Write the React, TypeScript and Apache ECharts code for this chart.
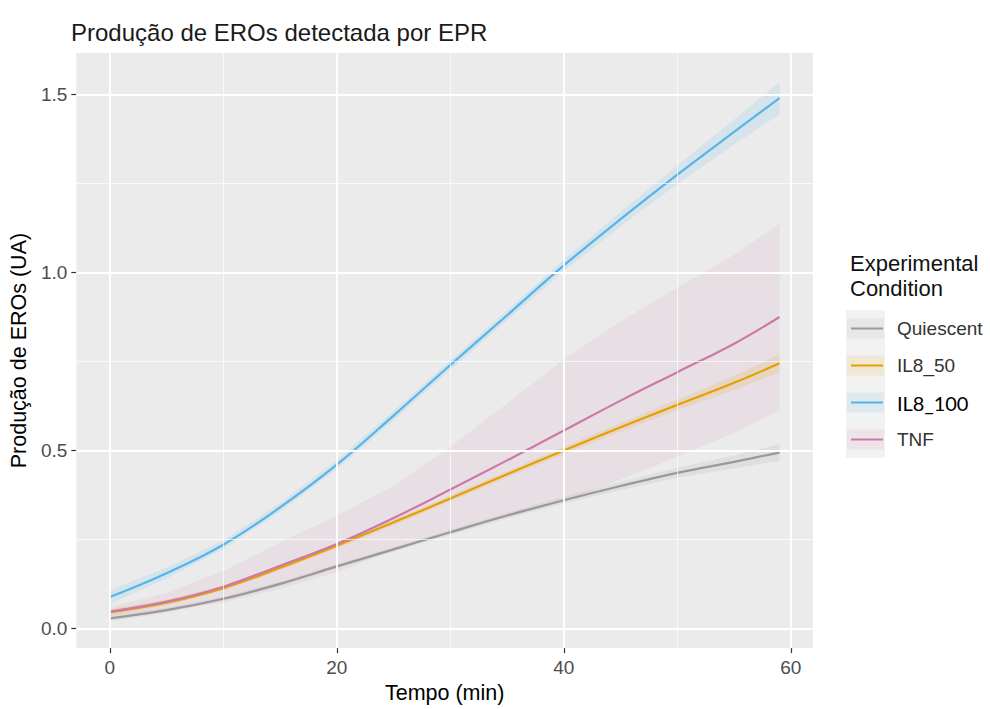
import React, { useEffect, useRef } from "react";
import * as echarts from "echarts";

// ---- Data ----
const TIME = [0, 5, 10, 15, 20, 25, 30, 35, 40, 45, 50, 55, 59];

const CONDITIONS = ["Quiescent", "IL8_50", "IL8_100", "TNF"];

const quiescent = [0.028, 0.051, 0.083, 0.125, 0.174, 0.222, 0.27, 0.317, 0.36, 0.4, 0.437, 0.468, 0.494];
const quiescentSE = [0.008, 0.007, 0.006, 0.006, 0.006, 0.006, 0.007, 0.008, 0.009, 0.011, 0.014, 0.018, 0.024];

const il8_50 = [0.045, 0.072, 0.113, 0.17, 0.232, 0.298, 0.365, 0.433, 0.5, 0.565, 0.628, 0.69, 0.745];
const il8_50SE = [0.01, 0.008, 0.007, 0.007, 0.008, 0.008, 0.008, 0.009, 0.01, 0.012, 0.015, 0.02, 0.025];

const il8_100 = [0.088, 0.155, 0.235, 0.34, 0.46, 0.598, 0.74, 0.88, 1.02, 1.15, 1.275, 1.395, 1.49];
const il8_100SE = [0.02, 0.015, 0.012, 0.012, 0.013, 0.013, 0.013, 0.014, 0.016, 0.02, 0.026, 0.035, 0.045];

const tnf = [0.047, 0.075, 0.117, 0.176, 0.237, 0.31, 0.39, 0.472, 0.556, 0.64, 0.72, 0.8, 0.875];
const tnfSE = [0.012, 0.025, 0.045, 0.065, 0.08, 0.09, 0.12, 0.16, 0.2, 0.222, 0.238, 0.25, 0.262];

const X_TICKS = [0, 20, 40, 60];
const X_MINOR = [10, 30, 50];
const Y_TICKS = [0, 0.5, 1.0, 1.5];
const Y_MINOR = [0.25, 0.75, 1.25];

const COLORS = ["#999999", "#E69F00", "#56B4E9", "#CC79A7"];

const FONT = "'Liberation Sans', Arial, sans-serif";

export default function App() {
  const ref = useRef<HTMLDivElement>(null);

  useEffect(() => {
    if (!ref.current) return;
    const chart = echarts.init(ref.current, undefined, { renderer: "svg" });

    const groups = [
      { name: CONDITIONS[0], v: quiescent, se: quiescentSE, color: COLORS[0] },
      { name: CONDITIONS[1], v: il8_50, se: il8_50SE, color: COLORS[1] },
      { name: CONDITIONS[2], v: il8_100, se: il8_100SE, color: COLORS[2] },
      { name: CONDITIONS[3], v: tnf, se: tnfSE, color: COLORS[3] },
    ];

    const series: any[] = [];

    // gridlines (ggplot style) through markLine on a dummy series
    const major = { color: "#ffffff", width: 1.8, type: "solid" };
    const minor = { color: "#ffffff", width: 0.8, type: "solid", opacity: 0.85 };
    series.push({
      type: "line",
      name: "grid",
      data: [[0, 0]],
      symbol: "none",
      lineStyle: { opacity: 0 },
      silent: true,
      z: 1,
      markLine: {
        silent: true,
        symbol: ["none", "none"],
        label: { show: false },
        emphasis: { disabled: true },
        data: [
          ...X_MINOR.map((x) => ({ xAxis: x, lineStyle: minor })),
          ...Y_MINOR.map((y) => ({ yAxis: y, lineStyle: minor })),
          ...X_TICKS.map((x) => ({ xAxis: x, lineStyle: major })),
          ...Y_TICKS.map((y) => ({ yAxis: y, lineStyle: major })),
        ],
      },
    });

    // confidence ribbons (custom polygons through the axes' scales)
    groups.forEach((g) => {
      const rows = TIME.map((t, i) => [t, g.v[i] - g.se[i], g.v[i] + g.se[i]]);
      series.push({
        type: "custom",
        name: g.name + "_ribbon",
        data: rows,
        encode: { x: 0, y: [1, 2] },
        silent: true,
        z: 2,
        renderItem: (params: any, api: any) => {
          if (params.dataIndex !== 0) return null;
          const upper = rows.map((r) => api.coord([r[0], r[2]]));
          const lower = rows.map((r) => api.coord([r[0], r[1]])).reverse();
          return {
            type: "polygon",
            shape: { points: upper.concat(lower) },
            style: { fill: g.color, opacity: g.name === "TNF" ? 0.1 : 0.15 },
          };
        },
      });
    });

    // fitted lines
    groups.forEach((g) => {
      series.push({
        type: "line",
        name: g.name,
        data: TIME.map((t, i) => [t, g.v[i]]),
        smooth: 0.4,
        symbol: "none",
        lineStyle: { color: g.color, width: 2.2 },
        silent: true,
        z: 3,
      });
    });

    const legendGraphics: any[] = [];
    const keyTop = 310;
    const keyH = 37;
    legendGraphics.push({
      type: "text",
      left: 850,
      top: 252,
      style: { text: "Experimental", font: `22px ${FONT}`, fill: "#111" },
    });
    legendGraphics.push({
      type: "text",
      left: 850,
      top: 277,
      style: { text: "Condition", font: `22px ${FONT}`, fill: "#111" },
    });
    legendGraphics.push({
      type: "rect",
      shape: { x: 846, y: keyTop, width: 39, height: keyH * 4 },
      style: { fill: "#F2F2F2" },
    });
    groups.forEach((g, i) => {
      const cy = keyTop + keyH * i + keyH / 2;
      legendGraphics.push({
        type: "rect",
        shape: { x: 847, y: cy - 10, width: 37, height: 20 },
        style: { fill: g.color, opacity: 0.12 },
      });
      legendGraphics.push({
        type: "line",
        shape: { x1: 851, y1: cy, x2: 883, y2: cy },
        style: { stroke: g.color, lineWidth: 2 },
      });
      const isSpecial = g.name === "IL8_100";
      legendGraphics.push({
        type: "text",
        x: 897,
        y: cy,
        style: {
          text: g.name,
          font: isSpecial ? `20px Lato, 'Open Sans', sans-serif` : `19px ${FONT}`,
          fill: isSpecial ? "#000" : "#333",
          verticalAlign: "middle",
          align: "left",
        },
      });
    });

    chart.setOption({
      animation: false,
      backgroundColor: "#ffffff",
      textStyle: { fontFamily: FONT },
      title: {
        text: "Produção de EROs detectada por EPR",
        left: 66,
        top: 15,
        textStyle: { fontSize: 24, fontWeight: "normal", color: "#1A1A1A", fontFamily: FONT },
      },
      grid: {
        left: 76,
        right: 177,
        top: 53,
        bottom: 54,
        show: true,
        backgroundColor: "#EBEBEB",
        borderWidth: 0,
      },
      xAxis: {
        type: "value",
        min: -2.95,
        max: 61.95,
        name: "Tempo (min)",
        nameLocation: "middle",
        nameGap: 31,
        nameTextStyle: { fontSize: 21.5, color: "#000", fontFamily: FONT },
        axisLine: { show: false, onZero: false },
        axisTick: {
          show: true,
          customValues: X_TICKS,
          length: 5,
          lineStyle: { color: "#333", width: 1.2 },
        },
        axisLabel: {
          customValues: X_TICKS,
          fontSize: 19,
          color: "#4D4D4D",
          margin: 10,
          fontFamily: FONT,
        },
        splitLine: { show: false },
      },
      yAxis: {
        type: "value",
        min: -0.0556,
        max: 1.617,
        name: "Produção de EROs (UA)",
        nameLocation: "middle",
        nameRotate: 90,
        nameGap: 43,
        nameTextStyle: { fontSize: 21.5, color: "#000", fontFamily: FONT },
        axisLine: { show: false, onZero: false },
        axisTick: {
          show: true,
          customValues: Y_TICKS,
          length: 5,
          lineStyle: { color: "#333", width: 1.2 },
        },
        axisLabel: {
          customValues: Y_TICKS,
          formatter: (v: number) => v.toFixed(1),
          fontSize: 19,
          color: "#4D4D4D",
          margin: 9,
          fontFamily: FONT,
        },
        splitLine: { show: false },
      },
      series,
      graphic: legendGraphics,
    });

    return () => chart.dispose();
  }, []);

  return (
    <div
      ref={ref}
      style={{ position: "fixed", left: 0, top: 0, width: 990, height: 709 }}
    />
  );
}
